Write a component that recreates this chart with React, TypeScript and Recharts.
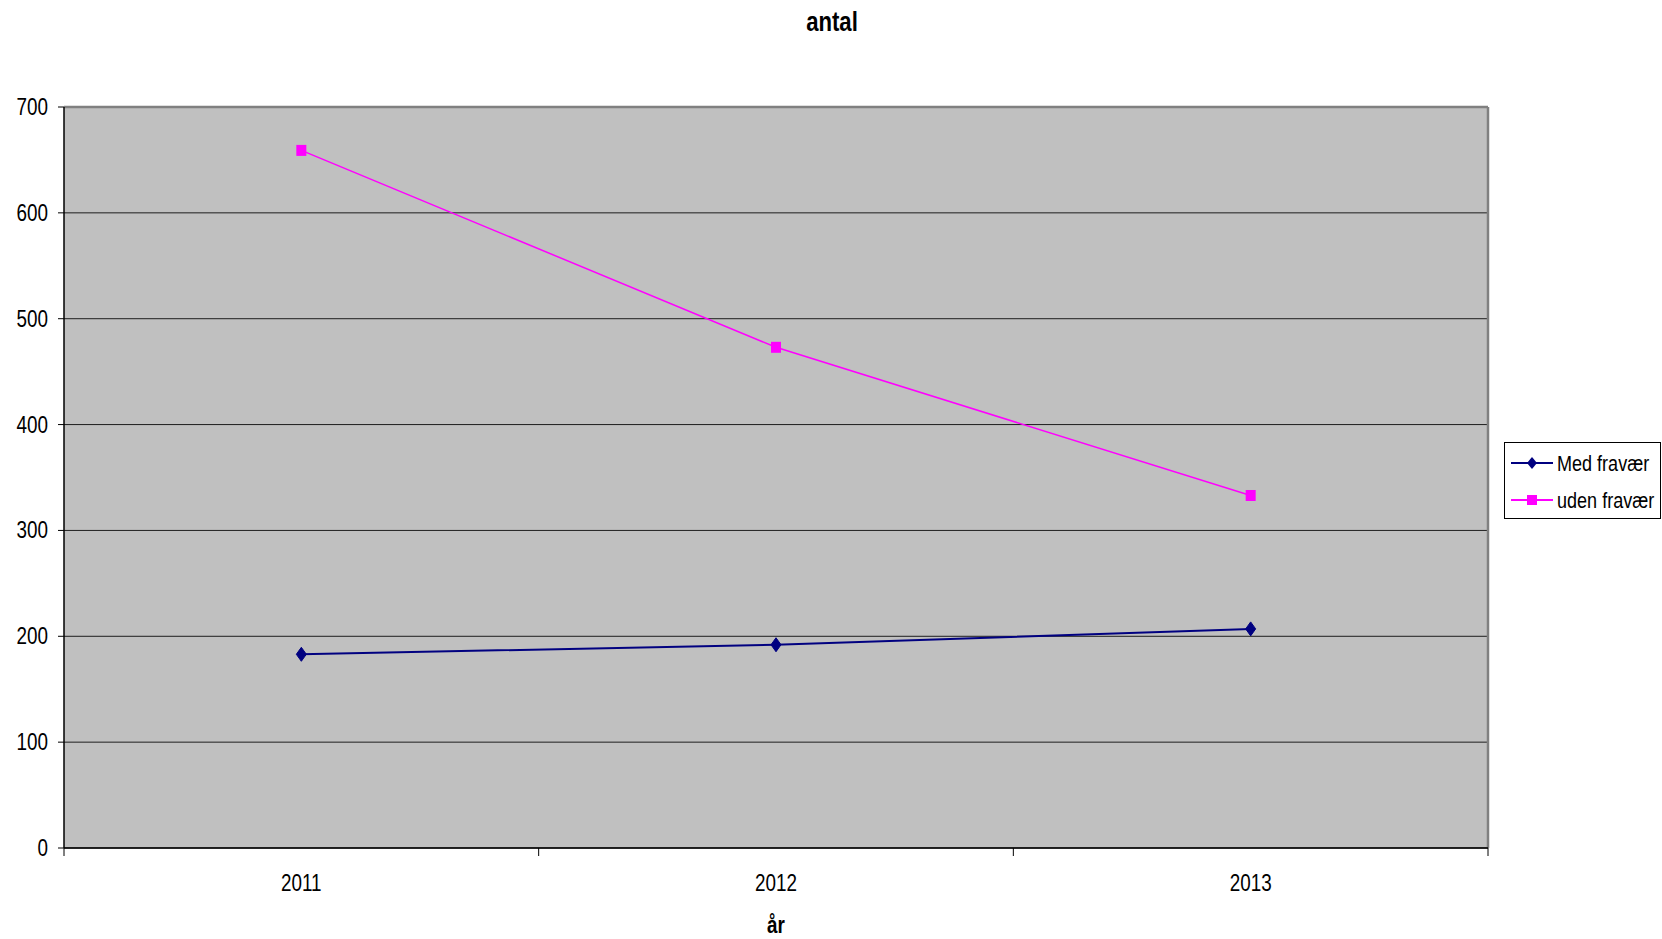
import React from "react"
import { LineChart, Line, XAxis, YAxis, CartesianGrid, ReferenceLine } from "recharts"

const years = ["2011", "2012", "2013"]
const medFravaer = [183, 192, 207]
const udenFravaer = [659, 473, 333]
const yTicks = [0, 100, 200, 300, 400, 500, 600, 700]

// no Arial Narrow here, so squeeze Liberation Sans horizontally
const FONT = "'Liberation Sans', Arial, sans-serif"
const SQUEEZE = 0.82
const NAVY = "#000080"
const MAGENTA = "#FF00FF"

const data = years.map((year, i) => ({
  pos: i + 0.5,
  year,
  med: medFravaer[i],
  uden: udenFravaer[i],
}))

// boundaries get a tick mark, centres get the year label
const xTicks: number[] = []
for (let i = 0; i <= years.length; i++) {
  xTicks.push(i)
  if (i < years.length) xTicks.push(i + 0.5)
}

function NarrowText({ x, y, anchor, size, bold, children }: any) {
  return (
    <text
      transform={`translate(${x},${y}) scale(${SQUEEZE},1)`}
      textAnchor={anchor}
      fontSize={size}
      fontWeight={bold ? "bold" : "normal"}
      fontFamily={FONT}
      fill="#000"
    >
      {children}
    </text>
  )
}

function XTick(props: any) {
  const { x, y, payload } = props
  const v = payload.value
  if (Number.isInteger(v)) {
    return <line x1={x} y1={y} x2={x} y2={y + 8} stroke="#000" strokeWidth={1} />
  }
  return (
    <NarrowText x={x} y={y + 43} anchor="middle" size={23}>
      {years[Math.floor(v)]}
    </NarrowText>
  )
}

function YTick(props: any) {
  const { x, y, payload } = props
  return (
    <NarrowText x={x} y={y + 8} anchor="end" size={23}>
      {payload.value}
    </NarrowText>
  )
}

function XLabel(props: any) {
  const { viewBox } = props
  return (
    <NarrowText x={viewBox.x + viewBox.width / 2} y={viewBox.y + viewBox.height - 6} anchor="middle" size={23} bold>
      år
    </NarrowText>
  )
}

function Diamond(props: any) {
  const { cx, cy } = props
  if (cx == null || cy == null) return null
  return <polygon points={`${cx},${cy - 7} ${cx + 5},${cy} ${cx},${cy + 7} ${cx - 5},${cy}`} fill={NAVY} stroke={NAVY} />
}

function Square(props: any) {
  const { cx, cy } = props
  if (cx == null || cy == null) return null
  return <rect x={cx - 5} y={cy - 5.5} width={10} height={11} fill={MAGENTA} />
}

function LegendBox() {
  const rows = [
    { name: "Med fravær", color: NAVY, shape: "diamond" },
    { name: "uden fravær", color: MAGENTA, shape: "square" },
  ]
  return (
    <svg width={158} height={78} style={{ position: "absolute", left: 1504, top: 442 }}>
      <rect x={0.5} y={0.5} width={156} height={76} fill="#fff" stroke="#000" strokeWidth={1} />
      {rows.map((r, i) => {
        const cy = 21 + i * 37
        return (
          <g key={r.name}>
            <line x1={7} y1={cy} x2={49} y2={cy} stroke={r.color} strokeWidth={2} />
            {r.shape === "diamond" ? (
              <polygon points={`28,${cy - 6} 33,${cy} 28,${cy + 6} 23,${cy}`} fill={r.color} />
            ) : (
              <rect x={23} y={cy - 5} width={10} height={10} fill={r.color} />
            )}
            <NarrowText x={53} y={cy + 8} anchor="start" size={22}>
              {r.name}
            </NarrowText>
          </g>
        )
      })}
    </svg>
  )
}

export default function App() {
  return (
    <div style={{ position: "fixed", left: 0, top: 0, width: 1662, height: 939, background: "#fff" }}>
      <svg width={1662} height={40} style={{ position: "absolute", left: 0, top: 0 }}>
        <NarrowText x={832} y={31} anchor="middle" size={27} bold>
          antal
        </NarrowText>
      </svg>
      <LineChart width={1662} height={939} data={data} margin={{ top: 107, right: 174, bottom: 0, left: 0 }}>
        <CartesianGrid vertical={false} fill="#C0C0C0" stroke="#000" strokeOpacity={0.85} horizontalValues={yTicks} />
        <XAxis
          dataKey="pos"
          type="number"
          domain={[0, years.length]}
          ticks={xTicks}
          interval={0}
          height={91}
          tickSize={0}
          tickMargin={0}
          tickLine={false}
          tick={<XTick />}
          axisLine={{ stroke: "#000", strokeWidth: 1.5 }}
          label={<XLabel />}
        />
        <YAxis
          domain={[0, 700]}
          ticks={yTicks}
          interval={0}
          width={64}
          tickSize={6}
          tickMargin={10}
          tick={<YTick />}
          tickLine={{ stroke: "#000" }}
          axisLine={{ stroke: "#000", strokeWidth: 1.5 }}
        />
        <ReferenceLine y={700} stroke="#808080" strokeWidth={2.5} />
        <ReferenceLine x={years.length} stroke="#808080" strokeWidth={2.5} />
        <Line
          dataKey="med"
          name="Med fravær"
          stroke={NAVY}
          strokeWidth={2}
          dot={<Diamond />}
          activeDot={false}
          isAnimationActive={false}
        />
        <Line
          dataKey="uden"
          name="uden fravær"
          stroke={MAGENTA}
          strokeWidth={1.5}
          dot={<Square />}
          activeDot={false}
          isAnimationActive={false}
        />
      </LineChart>
      <LegendBox />
    </div>
  )
}
